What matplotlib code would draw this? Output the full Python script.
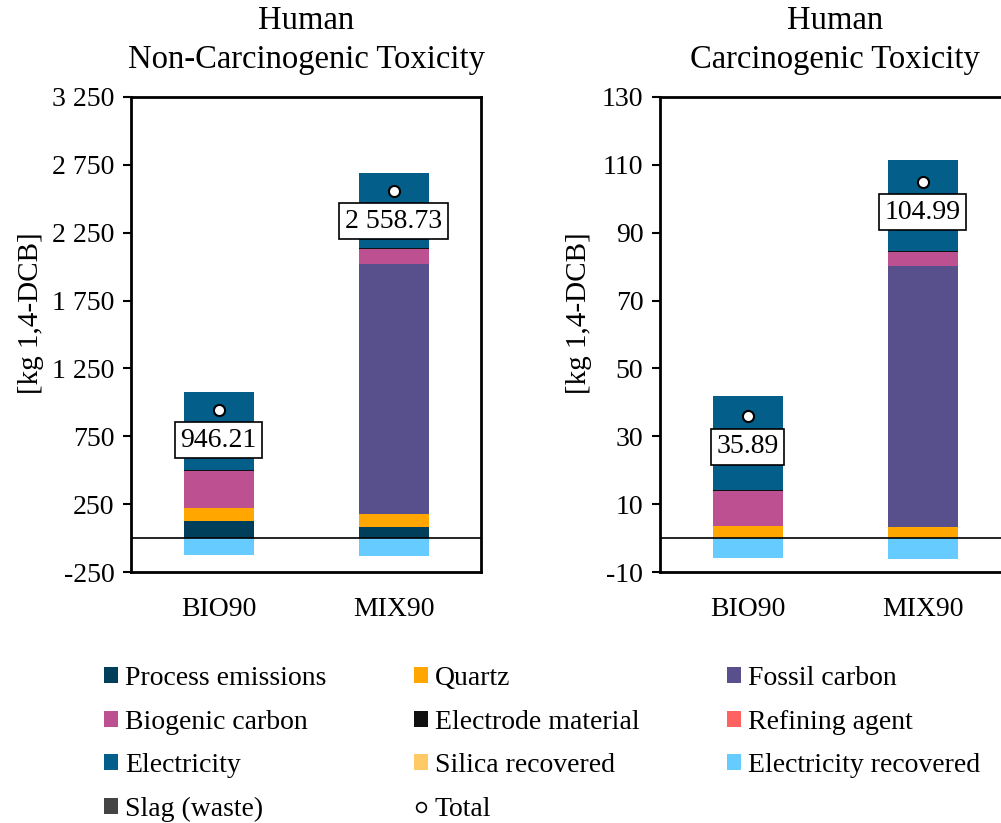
import matplotlib
matplotlib.use("Agg")
import matplotlib.pyplot as plt
from matplotlib.patches import Patch
from matplotlib.lines import Line2D
from matplotlib.ticker import FuncFormatter
import numpy as np

plt.rcParams['font.family'] = ['Liberation Serif', 'DejaVu Serif']

scenarios = ["BIO90", "MIX90"]

categories = ["Process emissions", "Quartz", "Fossil carbon", "Biogenic carbon",
              "Electrode material", "Refining agent", "Electricity",
              "Silica recovered", "Electricity recovered", "Slag (waste)"]
colors = ["#003f5c", "#ffa600", "#58508d", "#bc5090", "#111111", "#ff6361",
          "#035e8a", "#ffc966", "#66ccff", "#444444"]

# Human non-carcinogenic toxicity [kg 1,4-DCB]
nc_values = {
    "Process emissions": [125, 81],
    "Quartz": [100, 96],
    "Fossil carbon": [0, 1840],
    "Biogenic carbon": [266, 111],
    "Electrode material": [8, 8],
    "Refining agent": [0, 0],
    "Electricity": [580, 555],
    "Silica recovered": [0, 0],
    "Electricity recovered": [-128, -135],
    "Slag (waste)": [0, 0],
}
nc_total = [946.21, 2558.73]

# Human carcinogenic toxicity [kg 1,4-DCB]
c_values = {
    "Process emissions": [0, 0],
    "Quartz": [3.5, 3.4],
    "Fossil carbon": [0, 76.7],
    "Biogenic carbon": [10.3, 4.1],
    "Electrode material": [0.3, 0.3],
    "Refining agent": [0, 0],
    "Electricity": [27.7, 26.8],
    "Silica recovered": [0, 0],
    "Electricity recovered": [-5.9, -6.3],
    "Slag (waste)": [0, 0],
}
c_total = [35.89, 104.99]

W, H = 1001, 823
fig = plt.figure(figsize=(W / 100, H / 100), dpi=100)


def space_fmt(v, dec=0):
    return f"{v:,.{dec}f}".replace(",", " ")


def draw_panel(ax, values, total, title, ylim, ticks, ylab_x):
    x = np.arange(len(scenarios))
    pos = np.zeros(len(scenarios))
    neg = np.zeros(len(scenarios))
    for cat, col in zip(categories, colors):
        v = np.array(values[cat], dtype=float)
        bottom = np.where(v >= 0, pos, neg)
        ax.bar(x, v, 0.4, bottom=bottom, color=col, linewidth=0, zorder=2)
        pos += np.where(v >= 0, v, 0)
        neg += np.where(v < 0, v, 0)
    ax.axhline(0, color="black", lw=1.2, zorder=3)
    ax.plot(x, total, "o", ms=8, mfc="white", mec="black", mew=1.5, zorder=4)
    for xi, t in zip(x, total):
        ax.annotate(space_fmt(t, 2), (xi, t), xytext=(0, -22), textcoords="offset points",
                    ha="center", va="center", fontsize=20, zorder=5,
                    bbox=dict(boxstyle="square,pad=0.2", fc="white", ec="black", lw=1.2))
    ax.set_xlim(-0.5, 1.5)
    ax.set_ylim(*ylim)
    ax.set_yticks(ticks)
    ax.yaxis.set_major_formatter(FuncFormatter(lambda v, p: space_fmt(v)))
    ax.set_xticks(x)
    ax.set_xticklabels(scenarios)
    ax.tick_params(axis="x", length=0, labelsize=20, pad=18)
    ax.tick_params(axis="y", length=6, width=1.5, labelsize=20, pad=6)
    for s in ax.spines.values():
        s.set_linewidth(2)
    ax.set_ylabel("[kg 1,4-DCB]", fontsize=21)
    ax.yaxis.set_label_coords(ylab_x, 0.545)
    ax.set_title(title, fontsize=23.5, pad=21, linespacing=1.35)


ax1 = fig.add_axes([131 / W, 1 - 572 / H, 350 / W, 475 / H])
draw_panel(ax1, nc_values, nc_total, "Human\nNon-Carcinogenic Toxicity",
           (-250, 3250), np.arange(-250, 3251, 500), -0.25)

ax2 = fig.add_axes([660 / W, 1 - 572 / H, 350 / W, 475 / H])
draw_panel(ax2, c_values, c_total, "Human\nCarcinogenic Toxicity",
           (-10, 130), np.arange(-10, 131, 20), -0.195)

handles = {cat: Patch(facecolor=col, edgecolor="none") for cat, col in zip(categories, colors)}
handles["Total"] = Line2D([], [], marker="o", ls="none", ms=7, mfc="white", mec="black", mew=1.2)
order = ["Process emissions", "Biogenic carbon", "Electricity", "Slag (waste)",
         "Quartz", "Electrode material", "Silica recovered", "Total",
         "Fossil carbon", "Refining agent", "Electricity recovered"]
fig.legend([handles[k] for k in order], order, ncol=3, loc="upper left",
           bbox_to_anchor=(79 / W, 1 - 641 / H), frameon=False, fontsize=20,
           handlelength=0.5, handleheight=0.5, handletextpad=0.25,
           columnspacing=3.16, labelspacing=0.67)

fig.savefig("out.png", dpi=100)
